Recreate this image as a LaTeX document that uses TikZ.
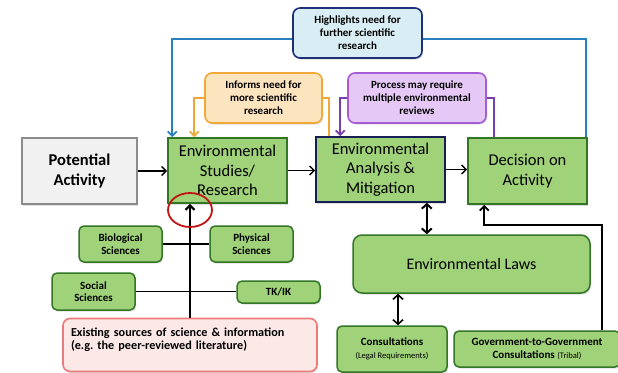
\documentclass[tikz,border=0pt]{standalone}
\usepackage{fontspec}
\setmainfont{Carlito}
\usetikzlibrary{arrows.meta,shadows}
\frenchspacing
\definecolor{gfill}{RGB}{160,210,122}
\definecolor{gdraw}{RGB}{50,118,38}
\definecolor{navy}{RGB}{22,30,82}
\definecolor{pfill}{RGB}{241,241,241}
\definecolor{pdraw}{RGB}{140,140,140}
\definecolor{hfill}{RGB}{216,237,244}
\definecolor{hdraw}{RGB}{30,48,122}
\definecolor{bline}{RGB}{40,128,190}
\definecolor{ofill}{RGB}{252,228,190}
\definecolor{odraw}{RGB}{240,168,56}
\definecolor{vfill}{RGB}{229,200,246}
\definecolor{vdraw}{RGB}{165,92,212}
\definecolor{vline}{RGB}{120,62,172}
\definecolor{efill}{RGB}{253,232,232}
\definecolor{edraw}{RGB}{236,122,122}
\definecolor{rcirc}{RGB}{192,20,20}
\tikzset{
  sh/.style={drop shadow={shadow xshift=1.2pt,shadow yshift=-1.5pt,opacity=0.25}},
  bigbox/.style={draw=gdraw,fill=gfill,line width=1.6pt,align=center,inner sep=2pt,
    font=\fontsize{16.5}{19.5}\selectfont,sh},
  smallbox/.style={draw=gdraw,fill=gfill,line width=1.5pt,rounded corners=5pt,align=center,
    inner sep=2pt,font=\bfseries\fontsize{11}{12.5}\selectfont,sh},
  notebox/.style={line width=1.6pt,rounded corners=7pt,align=center,inner sep=2pt,
    font=\bfseries\fontsize{11}{13}\selectfont,sh},
  arr/.style={-{Straight Barb[length=4.5pt,width=9pt]}},
  darr/.style={{Straight Barb[length=4.5pt,width=10pt]}-{Straight Barb[length=4.5pt,width=10pt]}},
}
\begin{document}
\begin{tikzpicture}[x=1pt,y=-1pt]
\clip (0,0) rectangle (618,372);
\fill[white] (0,0) rectangle (618,372);

% top notes
\node[notebox,draw=hdraw,fill=hfill,minimum width=129pt,minimum height=50pt] (hl) at (357.5,33)
  {Highlights need for\\further scientific\\research};
\node[notebox,draw=odraw,fill=ofill,minimum width=117pt,minimum height=50pt] (inf) at (263.5,98)
  {Informs need for\\more scientific\\research};
\node[notebox,draw=vdraw,fill=vfill,minimum width=138pt,minimum height=50pt] (proc) at (417,98)
  {Process may require\\multiple environmental\\reviews};

% main row
\node[bigbox,draw=pdraw,fill=pfill,font=\bfseries\fontsize{16.5}{20}\selectfont,
  minimum width=115pt,minimum height=66pt] (pot) at (79.5,171) {Potential\\Activity};
\node[bigbox,minimum width=119pt,minimum height=65pt] (stud) at (227.5,170.5)
  {Environmental\\Studies/\\Research};
\node[bigbox,draw=navy,minimum width=129pt,minimum height=65pt] (anal) at (380.5,169.5)
  {Environmental\\Analysis \&\\Mitigation};
\node[bigbox,minimum width=119pt,minimum height=66pt] (dec) at (527.5,171)
  {Decision on\\Activity};

% science sources
\node[smallbox,minimum width=83pt,minimum height=36pt] (bio) at (120.5,244) {Biological\\Sciences};
\node[smallbox,minimum width=83pt,minimum height=36pt] (phys) at (251.5,244) {Physical\\Sciences};
\node[smallbox,minimum width=83pt,minimum height=37pt] (soc) at (93.5,291.5) {Social\\Sciences};
\node[smallbox,minimum width=83pt,minimum height=22pt] (tk) at (278.5,292) {TK/IK};
\node[draw=edraw,fill=efill,line width=1.6pt,rounded corners=7pt,sh,
  minimum width=254pt,minimum height=53pt,text width=238pt,align=left,inner sep=2pt,
  font=\bfseries\fontsize{12.2}{12.8}\selectfont] (exist) at (190,345)
  {Existing sources of science \& information\\(e.g. the peer-reviewed literature)\\\mbox{}};

% laws
\node[smallbox,rounded corners=9pt,font=\fontsize{16}{19}\selectfont,
  minimum width=237pt,minimum height=58pt] (laws) at (471.5,264) {Environmental Laws};
\node[smallbox,minimum width=110pt,minimum height=46pt] (cons) at (392,349)
  {Consultations\\{\mdseries\fontsize{8.5}{10}\selectfont(Legal Requirements)}};
\node[smallbox,minimum width=166pt,minimum height=36pt] (gov) at (537,349)
  {Government-to-Government\\Consultations {\mdseries\fontsize{8.5}{10}\selectfont(Tribal)}};

% main flow arrows
\draw[arr,line width=1.4pt] (pot.east) -- (pot.east -| stud.west);
\draw[arr,line width=1.4pt] (stud.east) -- (stud.east -| anal.west);
\draw[arr,line width=1.4pt] (anal.east) -- (anal.east -| dec.west);

% blue feedback
\draw[arr,bline,line width=1.8pt] ([yshift=-6pt]hl.west) -| ([xshift=5pt]stud.north west);
\draw[bline,line width=1.8pt] ([yshift=-6pt]hl.east) -| ([xshift=-2pt]dec.north east);
% orange
\draw[arr,odraw,line width=1.8pt] (inf.west) -| ([xshift=27pt]stud.north west);
\draw[odraw,line width=1.8pt] (inf.east) -| ([xshift=14pt]anal.north west);
% purple
\draw[arr,vline,line width=1.8pt] (proc.west) -| ([xshift=25pt]anal.north west);
\draw[vline,line width=1.8pt] (proc.east) -| ([xshift=27pt]dec.north west);

% science lines
\draw[line width=1.4pt] (bio.east) -- (phys.west);
\draw[line width=1.4pt] (soc.east) -- (soc.east -| tk.west);
\draw[arr,line width=2.2pt] (exist.north) -- (exist.north |- stud.south);
\draw[rcirc,line width=1.8pt] (190,210) ellipse [x radius=22pt,y radius=17pt];

% laws arrows
\coordinate (a1) at ([xshift=-19pt]anal.south east);
\draw[darr,line width=2pt] (a1) -- (a1 |- laws.north);
\coordinate (c1) at ([xshift=6pt]cons.north);
\draw[darr,line width=1.6pt] (c1) -- (c1 |- laws.south);
\coordinate (g1) at ([xshift=65pt]gov.north);
\coordinate (gt) at (602,225);
\coordinate (d1) at ([xshift=17pt]dec.south west);
\draw[arr,line width=1.8pt] (g1) -- (gt) -| (d1);
\end{tikzpicture}
\end{document}
